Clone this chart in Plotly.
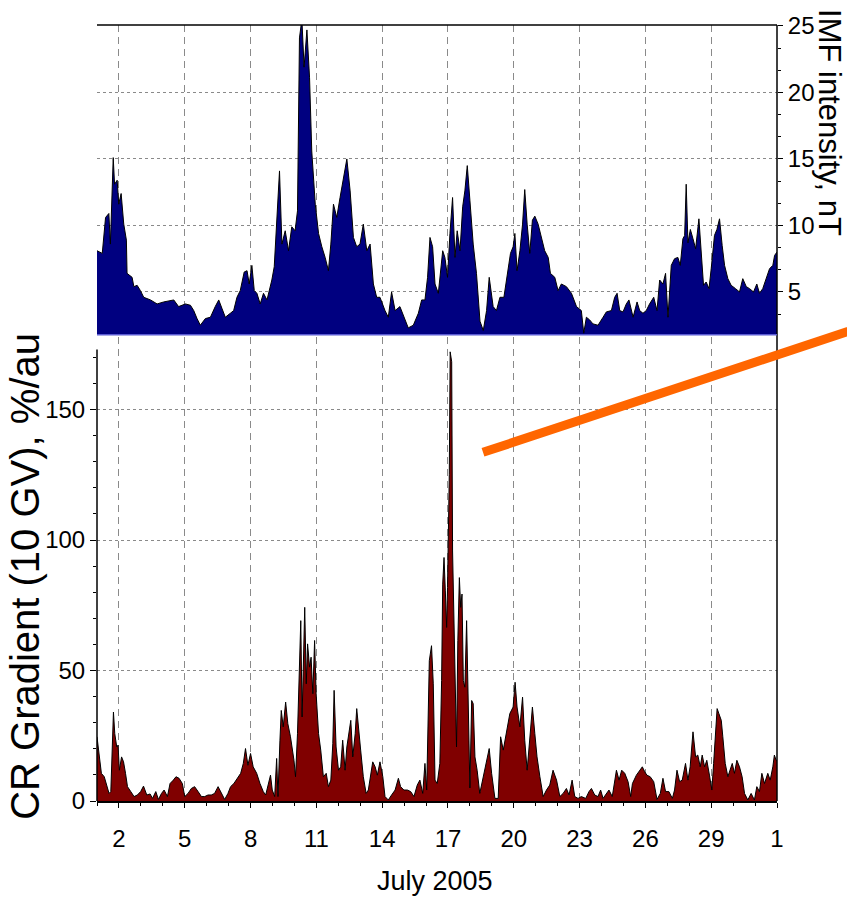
import plotly.graph_objects as go

# ---------------- data ----------------
# IMF intensity, nT  (top panel); time in days of July 2005 (32 = Aug 1)
imf_day = [1.00, 1.24, 1.39, 1.54, 1.61, 1.74, 1.80, 1.92, 1.99, 2.10, 2.22, 2.34, 2.37, 2.60, 2.68, 2.83,
           2.98, 3.13, 3.44, 3.74, 4.04, 4.50, 4.72, 5.03, 5.26, 5.41, 5.56, 5.71, 5.94, 6.17, 6.39, 6.55,
           6.70, 6.85, 7.08, 7.23, 7.38, 7.53, 7.71, 7.84, 7.94, 8.06, 8.17, 8.29, 8.44, 8.59, 8.75, 8.97,
           9.08, 9.17, 9.32, 9.43, 9.58, 9.73, 9.88, 10.03, 10.14, 10.23, 10.34, 10.44, 10.57, 10.69, 10.79,
           10.95, 11.10, 11.25, 11.40, 11.55, 11.66, 11.78, 11.93, 12.08, 12.23, 12.39, 12.54, 12.69, 12.84,
           12.99, 13.14, 13.30, 13.45, 13.60, 13.75, 13.90, 14.13, 14.28, 14.43, 14.59, 14.81, 15.04, 15.19,
           15.42, 15.65, 15.80, 15.95, 16.07, 16.18, 16.30, 16.41, 16.56, 16.76, 16.86, 16.98, 17.09, 17.21,
           17.32, 17.42, 17.55, 17.67, 17.77, 17.88, 18.00, 18.15, 18.30, 18.46, 18.61, 18.76, 18.88, 19.06,
           19.21, 19.37, 19.55, 19.70, 19.85, 19.97, 20.05, 20.15, 20.28, 20.40, 20.50, 20.61, 20.73, 20.85,
           20.96, 21.11, 21.26, 21.41, 21.57, 21.67, 21.87, 22.02, 22.17, 22.40, 22.63, 22.86, 23.08, 23.19,
           23.31, 23.46, 23.61, 23.84, 24.07, 24.22, 24.45, 24.60, 24.71, 24.83, 24.98, 25.13, 25.25, 25.44,
           25.62, 25.74, 25.89, 26.04, 26.19, 26.38, 26.53, 26.65, 26.80, 26.92, 27.03, 27.18, 27.33, 27.48,
           27.59, 27.71, 27.79, 27.86, 27.94, 28.05, 28.17, 28.29, 28.44, 28.55, 28.65, 28.77, 28.90, 29.00,
           29.15, 29.26, 29.38, 29.50, 29.61, 29.76, 29.91, 30.11, 30.29, 30.44, 30.60, 30.75, 30.93, 31.08,
           31.20, 31.35, 31.51, 31.66, 31.81, 31.89, 32.00]
imf_nt = [8.1, 7.9, 10.6, 10.9, 8.6, 15.1, 13.1, 13.4, 11.6, 12.4, 10.1, 8.9, 6.4, 6.1, 5.4, 5.5,
          5.1, 4.6, 4.4, 4.1, 4.25, 4.4, 3.9, 4.1, 4.0, 3.6, 3.0, 2.5, 3.0, 3.1, 3.9, 4.4,
          3.75, 3.1, 3.4, 3.6, 4.6, 5.1, 6.5, 6.6, 5.6, 7.0, 5.1, 4.9, 4.1, 4.9, 4.4, 5.9,
          6.9, 9.9, 14.1, 8.6, 9.6, 8.1, 9.9, 9.6, 11.1, 24.1, 25.5, 21.9, 24.7, 21.1, 15.6,
          11.6, 9.4, 8.4, 7.6, 6.6, 8.6, 11.6, 10.6, 12.1, 13.6, 15.0, 12.6, 9.1, 8.4,
          8.6, 10.1, 8.1, 8.6, 5.6, 4.6, 4.6, 3.6, 3.1, 5.0, 3.6, 3.9, 3.0, 2.3,
          2.5, 3.4, 4.4, 4.4, 6.1, 9.1, 8.4, 5.6, 4.9, 8.1, 7.6, 6.1, 9.4, 12.1,
          7.6, 9.6, 8.1, 11.4, 12.6, 14.5, 11.9, 8.6, 6.4, 2.8, 2.1, 3.6, 6.1, 3.9,
          3.6, 4.6, 4.6, 6.4, 7.9, 8.4, 9.4, 6.6, 8.1, 10.1, 12.7, 10.1, 7.9, 10.4,
          10.7, 10.1, 9.1, 8.1, 7.6, 6.4, 6.1, 5.1, 5.6, 5.4, 4.9, 3.9, 3.6, 1.9,
          3.1, 2.9, 2.6, 2.5, 3.1, 3.5, 3.6, 4.6, 4.9, 3.6, 3.5, 4.1, 4.4, 3.1,
          4.25, 3.6, 3.4, 3.6, 4.1, 4.6, 3.6, 5.9, 5.6, 6.4, 3.1, 7.0, 7.5, 7.6,
          7.0, 9.0, 9.25, 13.1, 8.7, 9.7, 9.0, 8.25, 10.5, 8.0, 5.5, 5.75, 5.25, 6.75,
          9.25, 9.7, 10.5, 8.5, 7.0, 6.0, 5.5, 5.25, 5.0, 6.0, 5.4, 5.25, 5.0, 5.6,
          4.9, 5.25, 6.0, 6.75, 7.0, 7.75, 8.0]

# CR gradient (10 GV), %/au  (bottom panel)
cr_day = [1.00, 1.10, 1.20, 1.33, 1.45, 1.55, 1.63, 1.71, 1.75, 1.81, 1.90, 1.96, 2.02, 2.12, 2.21, 2.30,
          2.39, 2.54, 2.69, 2.84, 2.99, 3.12, 3.27, 3.42, 3.53, 3.68, 3.80, 3.94, 4.06, 4.21, 4.33, 4.48,
          4.60, 4.74, 4.89, 5.00, 5.15, 5.30, 5.45, 5.61, 5.76, 5.91, 6.06, 6.21, 6.36, 6.52, 6.67, 6.82,
          6.97, 7.09, 7.24, 7.40, 7.55, 7.67, 7.77, 7.88, 8.00, 8.12, 8.28, 8.43, 8.58, 8.69, 8.79, 8.91,
          8.99, 9.10, 9.19, 9.25, 9.34, 9.40, 9.49, 9.60, 9.70, 9.82, 9.98, 10.05, 10.14, 10.23, 10.29,
          10.35, 10.41, 10.47, 10.54, 10.60, 10.69, 10.76, 10.84, 10.92, 10.99, 11.10, 11.20, 11.32, 11.45,
          11.55, 11.66, 11.75, 11.81, 11.90, 12.01, 12.11, 12.20, 12.31, 12.39, 12.49, 12.57, 12.66, 12.77,
          12.84, 12.93, 13.02, 13.14, 13.27, 13.37, 13.48, 13.57, 13.68, 13.78, 13.90, 14.03, 14.13, 14.28,
          14.43, 14.59, 14.74, 14.84, 14.99, 15.15, 15.30, 15.45, 15.60, 15.72, 15.85, 15.95, 16.03, 16.15,
          16.25, 16.33, 16.41, 16.51, 16.63, 16.71, 16.76, 16.82, 16.88, 16.94, 16.98, 17.06, 17.10, 17.17,
          17.21, 17.27, 17.33, 17.39, 17.45, 17.52, 17.58, 17.64, 17.70, 17.77, 17.85, 17.92, 18.00, 18.08,
          18.15, 18.23, 18.33, 18.45, 18.61, 18.76, 18.88, 18.99, 19.14, 19.29, 19.40, 19.52, 19.67, 19.82,
          19.97, 20.06, 20.15, 20.28, 20.40, 20.50, 20.61, 20.73, 20.85, 20.96, 21.06, 21.19, 21.34, 21.49,
          21.64, 21.79, 21.95, 22.10, 22.25, 22.40, 22.52, 22.66, 22.78, 22.93, 23.08, 23.28, 23.43, 23.54,
          23.69, 23.84, 23.96, 24.07, 24.22, 24.34, 24.49, 24.60, 24.68, 24.80, 24.92, 25.06, 25.21, 25.33,
          25.41, 25.59, 25.74, 25.86, 25.97, 26.07, 26.22, 26.38, 26.53, 26.68, 26.80, 26.92, 27.07, 27.23,
          27.33, 27.44, 27.56, 27.68, 27.83, 27.94, 28.04, 28.17, 28.29, 28.39, 28.50, 28.59, 28.70, 28.80,
          28.92, 29.03, 29.11, 29.20, 29.27, 29.35, 29.46, 29.53, 29.64, 29.76, 29.87, 29.96, 30.06, 30.17,
          30.29, 30.41, 30.52, 30.67, 30.82, 30.97, 31.08, 31.20, 31.31, 31.43, 31.58, 31.69, 31.81, 31.88,
          31.96, 32.00]
cr_grad = [24.6, 18.2, 10.6, 9.3, 5.5, 2.9, 3.6, 19.5, 34.1, 25.8, 20.7, 21.4, 11.8, 16.9, 15.0, 10.6,
           5.5, 3.6, 1.7, 2.3, 3.6, 5.7, 2.3, 2.7, 1.0, 3.6, 0.6, 2.9, 4.2, 1.7, 6.7, 8.0,
           9.3, 8.7, 6.7, 1.7, 2.9, 4.8, 5.5, 3.6, 1.7, 1.7, 2.3, 2.3, 2.9, 5.5, 2.9, 0.6,
           2.9, 5.5, 6.7, 8.7, 10.6, 14.4, 20.1, 13.7, 18.2, 13.1, 10.6, 6.7, 3.6, 2.3, 5.5, 9.9,
           4.2, 1.7, 16.3, 1.7, 23.3, 34.7, 28.4, 37.9, 29.6, 24.6, 15.6, 9.3, 25.8, 57.6, 69.1,
           32.2, 57.6, 74.2, 44.9, 60.2, 51.3, 55.1, 41.1, 61.5, 41.1, 25.8, 19.5, 9.3, 10.6,
           5.5, 8.0, 22.0, 42.4, 20.7, 11.8, 13.1, 23.3, 11.8, 20.7, 25.8, 30.9, 16.9, 25.8,
           35.4, 28.4, 19.5, 9.3, 2.9, 4.2, 10.6, 15.0, 13.1, 9.9, 15.0, 9.3, 1.7, 0.4,
           2.3, 4.2, 8.7, 5.5, 4.2, 4.2, 3.6, 1.7, 6.1, 8.0, 2.9, 14.4, 4.2, 53.8,
           59.5, 44.9, 8.0, 6.7, 14.4, 46.2, 83.1, 93.3, 80.5, 66.5, 81.8, 125.1, 172.1, 168.3,
           95.8, 70.4, 55.1, 20.7, 61.5, 85.6, 74.2, 79.3, 46.2, 43.6, 69.1, 32.2, 5.0, 38.5,
           37.3, 16.9, 11.8, 2.9, 9.3, 15.6, 20.1, 10.6, 1.0, 1.0, 24.6, 19.5, 25.8, 33.5,
           36.0, 45.5, 36.0, 28.4, 39.8, 23.3, 11.8, 23.3, 36.0, 25.8, 16.9, 9.3, 1.7, 4.2,
           6.1, 11.8, 8.0, 1.7, 2.9, 4.8, 2.3, 8.0, 1.7, 1.0, 1.7, 1.0, 3.6, 4.8,
           2.3, 1.7, 4.2, 1.0, 2.9, 4.2, 1.7, 8.0, 11.8, 8.0, 11.8, 10.6, 7.4, 1.7,
           6.7, 9.9, 11.8, 13.1, 11.2, 9.9, 9.3, 7.4, 0.6, 2.9, 8.7, 3.6, 3.6, 1.0,
           4.2, 11.8, 7.4, 8.0, 14.4, 8.0, 13.1, 26.5, 16.9, 17.6, 13.1, 17.6, 13.1, 15.6,
           9.9, 4.2, 14.4, 28.4, 35.4, 33.5, 30.9, 24.6, 14.4, 9.3, 11.8, 14.4, 10.6, 15.6,
           13.1, 9.3, 2.9, 0.4, 2.9, 0.4, 5.5, 3.6, 10.6, 6.7, 10.6, 8.0, 13.1, 17.6,
           15.6, 15.6]

x_tickvals = [2, 5, 8, 11, 14, 17, 20, 23, 26, 29, 32]
x_ticktext = ["2", "5", "8", "11", "14", "17", "20", "23", "26", "29", "1"]
cr_tickvals = [0, 50, 100, 150]
imf_tickvals = [5, 10, 15, 20, 25]

FONT = "Liberation Sans, Arial, sans-serif"
W, H = 847, 911
ML, MR, MT, MB = 97, 70, 22, 110
PW, PH = W - ML - MR, H - MT - MB
BOT_TOP_PX = 335  # pixel row of the top of the lower panel


def px_x(px):
    return (px - ML) / PW


def px_y(py):
    return (H - MB - py) / PH


def px_ydom(py):
    # fraction of the lower panel's y domain
    return (H - MB - py) / (H - MB - BOT_TOP_PX)


fig = go.Figure()

fig.add_trace(go.Scatter(
    x=imf_day, y=imf_nt, xaxis="x2", yaxis="y2", mode="lines",
    fill="tozeroy", fillcolor="#000080", line=dict(color="black", width=1),
    showlegend=False, hoverinfo="skip"))

fig.add_trace(go.Scatter(
    x=cr_day, y=cr_grad, xaxis="x", yaxis="y", mode="lines",
    fill="tozeroy", fillcolor="#800000", line=dict(color="black", width=1),
    showlegend=False, hoverinfo="skip"))

grid_c = "#8a8a8a"
y_top_bot = px_y(333)
y_bot_top = px_y(BOT_TOP_PX)

fig.update_layout(
    width=W, height=H,
    margin=dict(l=ML, r=MR, t=MT, b=MB),
    paper_bgcolor="white", plot_bgcolor="white",
    font=dict(family=FONT, color="black", size=24),
    xaxis=dict(domain=[0, 1], anchor="y", range=[1, 32],
               tickmode="array", tickvals=x_tickvals, ticktext=x_ticktext,
               ticks="outside", ticklen=5, tickcolor="black", tickwidth=1,
               ticklabelstandoff=10,
               minor=dict(tick0=1, dtick=1, ticks="outside", ticklen=3,
                          tickcolor="black", showgrid=False),
               showgrid=True, gridcolor=grid_c, griddash="7px,5px", gridwidth=1,
               showline=True, linecolor="black", linewidth=1.5,
               zeroline=False, tickfont=dict(size=24)),
    xaxis2=dict(domain=[0, 1], anchor="y2", matches="x", range=[1, 32],
                tickmode="array", tickvals=x_tickvals, showticklabels=False,
                ticks="", showgrid=True, gridcolor=grid_c, griddash="7px,5px",
                gridwidth=1, showline=False, zeroline=False),
    yaxis=dict(domain=[0, y_bot_top], anchor="x", range=[0, (H - MB - BOT_TOP_PX) / 2.62],
               tickmode="array", tickvals=cr_tickvals,
               ticks="outside", ticklen=6, tickcolor="black",
               minor=dict(tick0=0, dtick=10, ticks="outside", ticklen=3,
                          tickcolor="black", showgrid=False),
               showgrid=True, gridcolor=grid_c, griddash="3px,3px", gridwidth=1,
               showline=False, zeroline=False, tickfont=dict(size=24)),
    yaxis2=dict(domain=[y_top_bot, 1], anchor="x2", side="right",
                range=[1.78, 25.07],
                tickmode="array", tickvals=imf_tickvals,
                ticks="outside", ticklen=5, tickcolor="black",
                minor=dict(tick0=5, dtick=5 / 3, ticks="outside", ticklen=3,
                           tickcolor="black", showgrid=False),
                showgrid=True, gridcolor=grid_c, griddash="3px,3px", gridwidth=1,
                showline=False, zeroline=False, tickfont=dict(size=24)),
)

shapes = [
    # left axis line of the lower panel
    dict(type="line", xref="paper", yref="y", x0=0, x1=0, y0=0, y1=173,
         line=dict(color="black", width=1.5)),
    # right frame line (both panels)
    dict(type="line", xref="paper", yref="paper", x0=1, x1=1, y0=0, y1=1,
         line=dict(color="black", width=1.5)),
    # top frame line
    dict(type="line", xref="paper", yref="paper", x0=0, x1=1, y0=1, y1=1,
         line=dict(color="black", width=1.5)),
    # light baseline of the upper panel
    dict(type="line", xref="paper", yref="paper", x0=0, x1=1, y0=y_top_bot, y1=y_top_bot,
         line=dict(color="#5a5ad2", width=1.5)),
]
fig.update_layout(shapes=shapes)

annotations = [
    dict(text="CR Gradient (10 GV), %/au", textangle=-90, xref="paper", yref="paper",
         x=px_x(25), y=px_y(576), xanchor="center", yanchor="middle", showarrow=False,
         font=dict(family=FONT, size=40, color="black")),
    dict(text="IMF intensity, nT", textangle=90, xref="paper", yref="paper",
         x=px_x(849), y=px_y(4), xanchor="right", yanchor="top", showarrow=False,
         font=dict(family=FONT, size=31, color="black")),
    dict(text="July 2005", xref="paper", yref="paper",
         x=px_x(435), y=px_y(881), xanchor="center", yanchor="middle", showarrow=False,
         font=dict(family=FONT, size=27, color="black")),
    # orange pointer line (drawn over the right-hand title)
    dict(text="", xref="x domain", yref="y domain", x=px_x(483), y=px_ydom(451),
         axref="x domain", ayref="y domain", ax=px_x(905), ay=px_ydom(310.7),
         showarrow=True, arrowhead=0, arrowwidth=9, arrowcolor="#FF6600",
         standoff=0, startstandoff=0),
]
fig.update_layout(annotations=annotations)

fig.write_html("out.html")
